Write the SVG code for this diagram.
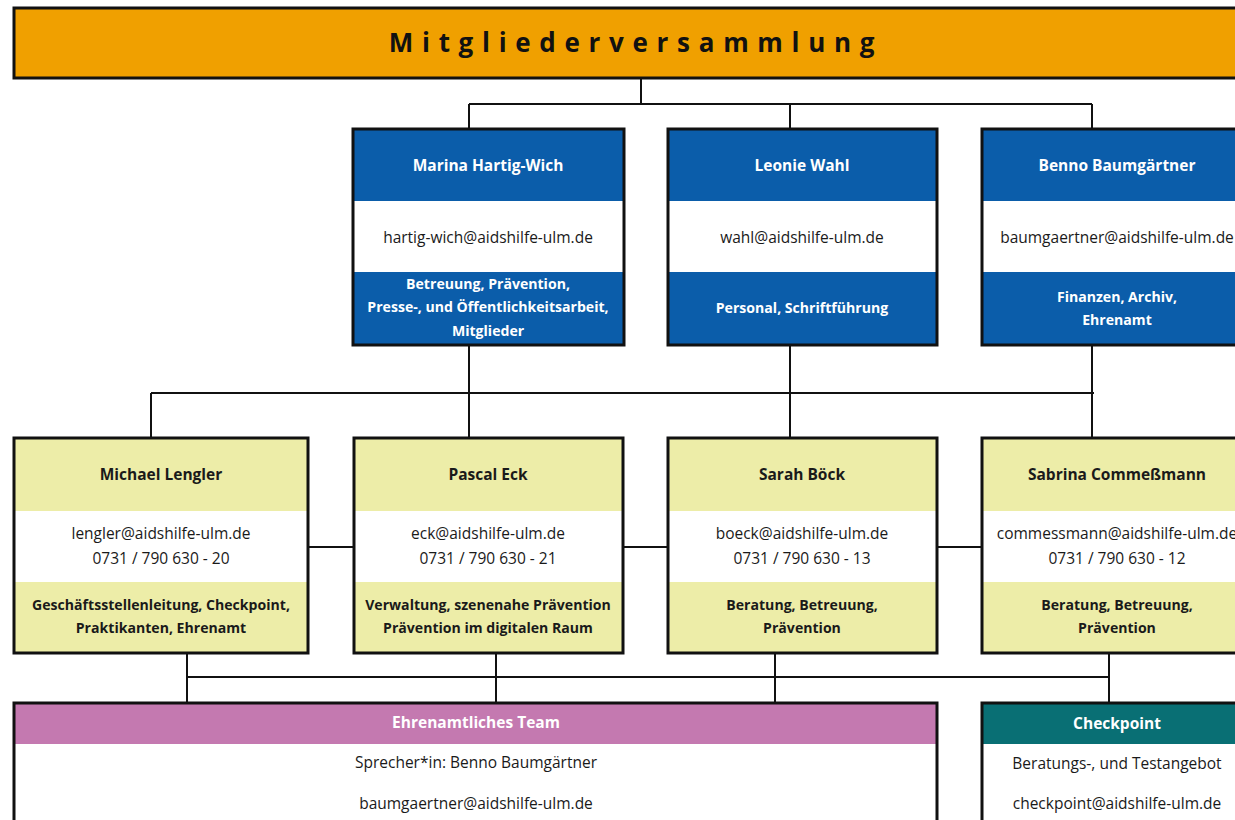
<svg xmlns="http://www.w3.org/2000/svg" width="1235" height="820" viewBox="0 0 1235 820">
<style>
.frame{fill:none;stroke:#111;stroke-width:3}
.blue{fill:#0B5DAA}
.yel{fill:#EDEDA8}
.wh{fill:#fff}
.t{font-family:"Open Sans","Liberation Sans",sans-serif;font-size:15.5px;text-anchor:middle}
.s{font-size:14.1px}
.b{font-weight:bold}
.w{fill:#fff}
.k{fill:#1a1a1a}
.ln{fill:none;stroke:#111;stroke-width:2}
</style>
<rect width="1235" height="820" fill="#fff"/>
<g id="top">
<rect x="14" y="8" width="1240" height="70" fill="#F0A000" stroke="#111" stroke-width="3"/>
<text x="636" y="52" font-family="'Open Sans','Liberation Sans',sans-serif" font-size="26" font-weight="bold" letter-spacing="8.7" text-anchor="middle" fill="#111">Mitgliederversammlung</text>
</g>
<g id="connectors">
<path class="ln" d="M641 78V104M469 104H1092M469 104V129M790 104V129M1092 104V129"/>
<path class="ln" d="M469 345V438M790 345V438M1092 345V438M151 393H1094M151 393V438"/>
<path class="ln" d="M308 547H354M623 547H668M937 547H982"/>
<path class="ln" d="M187 653V703M496 653V703M775 653V703M1109 653V703M187 677H1109"/>
</g>
<g id="hartig">
<rect class="blue" x="353" y="129" width="271" height="216"/>
<rect class="wh" x="353" y="201" width="271" height="71"/>
<rect class="frame" x="353" y="129" width="271" height="216"/>
<text class="t b w" x="488" y="171">Marina Hartig-Wich</text>
<text class="t k" x="488" y="243">hartig-wich@aidshilfe-ulm.de</text>
<text class="t s b w" x="488" y="289">Betreuung, Prävention,</text>
<text class="t s b w" x="488" y="312">Presse-, und Öffentlichkeitsarbeit,</text>
<text class="t s b w" x="488" y="336">Mitglieder</text>
</g>
<g id="wahl">
<rect class="blue" x="668" y="129" width="269" height="216"/>
<rect class="wh" x="668" y="201" width="269" height="71"/>
<rect class="frame" x="668" y="129" width="269" height="216"/>
<text class="t b w" x="802" y="171">Leonie Wahl</text>
<text class="t k" x="802" y="243">wahl@aidshilfe-ulm.de</text>
<text class="t s b w" x="802" y="313">Personal, Schriftführung</text>
</g>
<g id="baumgaertner">
<rect class="blue" x="982" y="129" width="272" height="216"/>
<rect class="wh" x="982" y="201" width="272" height="71"/>
<rect class="frame" x="982" y="129" width="272" height="216"/>
<text class="t b w" x="1117" y="171">Benno Baumgärtner</text>
<text class="t k" x="1117" y="243">baumgaertner@aidshilfe-ulm.de</text>
<text class="t s b w" x="1117" y="302">Finanzen, Archiv,</text>
<text class="t s b w" x="1117" y="325">Ehrenamt</text>
</g>
<g id="lengler">
<rect class="yel" x="14" y="438" width="294" height="215"/>
<rect class="wh" x="14" y="511" width="294" height="71"/>
<rect class="frame" x="14" y="438" width="294" height="215"/>
<text class="t b k" x="161" y="480">Michael Lengler</text>
<text class="t k" x="161" y="539">lengler@aidshilfe-ulm.de</text>
<text class="t k" x="161" y="564">0731 / 790 630 - 20</text>
<text class="t s b k" x="161" y="610">Geschäftsstellenleitung, Checkpoint,</text>
<text class="t s b k" x="161" y="633">Praktikanten, Ehrenamt</text>
</g>
<g id="eck">
<rect class="yel" x="354" y="438" width="269" height="215"/>
<rect class="wh" x="354" y="511" width="269" height="71"/>
<rect class="frame" x="354" y="438" width="269" height="215"/>
<text class="t b k" x="488" y="480">Pascal Eck</text>
<text class="t k" x="488" y="539">eck@aidshilfe-ulm.de</text>
<text class="t k" x="488" y="564">0731 / 790 630 - 21</text>
<text class="t s b k" x="488" y="610">Verwaltung, szenenahe Prävention</text>
<text class="t s b k" x="488" y="633">Prävention im digitalen Raum</text>
</g>
<g id="boeck">
<rect class="yel" x="668" y="438" width="269" height="215"/>
<rect class="wh" x="668" y="511" width="269" height="71"/>
<rect class="frame" x="668" y="438" width="269" height="215"/>
<text class="t b k" x="802" y="480">Sarah Böck</text>
<text class="t k" x="802" y="539">boeck@aidshilfe-ulm.de</text>
<text class="t k" x="802" y="564">0731 / 790 630 - 13</text>
<text class="t s b k" x="802" y="610">Beratung, Betreuung,</text>
<text class="t s b k" x="802" y="633">Prävention</text>
</g>
<g id="commessmann">
<rect class="yel" x="982" y="438" width="272" height="215"/>
<rect class="wh" x="982" y="511" width="272" height="71"/>
<rect class="frame" x="982" y="438" width="272" height="215"/>
<text class="t b k" x="1117" y="480">Sabrina Commeßmann</text>
<text class="t k" x="1117" y="539">commessmann@aidshilfe-ulm.de</text>
<text class="t k" x="1117" y="564">0731 / 790 630 - 12</text>
<text class="t s b k" x="1117" y="610">Beratung, Betreuung,</text>
<text class="t s b k" x="1117" y="633">Prävention</text>
</g>
<g id="ehrenamt">
<rect class="wh" x="14" y="703" width="923" height="130"/>
<rect fill="#C479B0" x="14" y="703" width="923" height="41"/>
<rect class="frame" x="14" y="703" width="923" height="130"/>
<text class="t b w" x="476" y="728">Ehrenamtliches Team</text>
<text class="t k" x="476" y="768">Sprecher*in: Benno Baumgärtner</text>
<text class="t k" x="476" y="809">baumgaertner@aidshilfe-ulm.de</text>
</g>
<g id="checkpoint">
<rect class="wh" x="982" y="703" width="272" height="130"/>
<rect fill="#096F74" x="982" y="703" width="272" height="41"/>
<rect class="frame" x="982" y="703" width="272" height="130"/>
<text class="t b w" x="1117" y="729">Checkpoint</text>
<text class="t k" x="1117" y="769">Beratungs-, und Testangebot</text>
<text class="t k" x="1117" y="809">checkpoint@aidshilfe-ulm.de</text>
</g>
</svg>
